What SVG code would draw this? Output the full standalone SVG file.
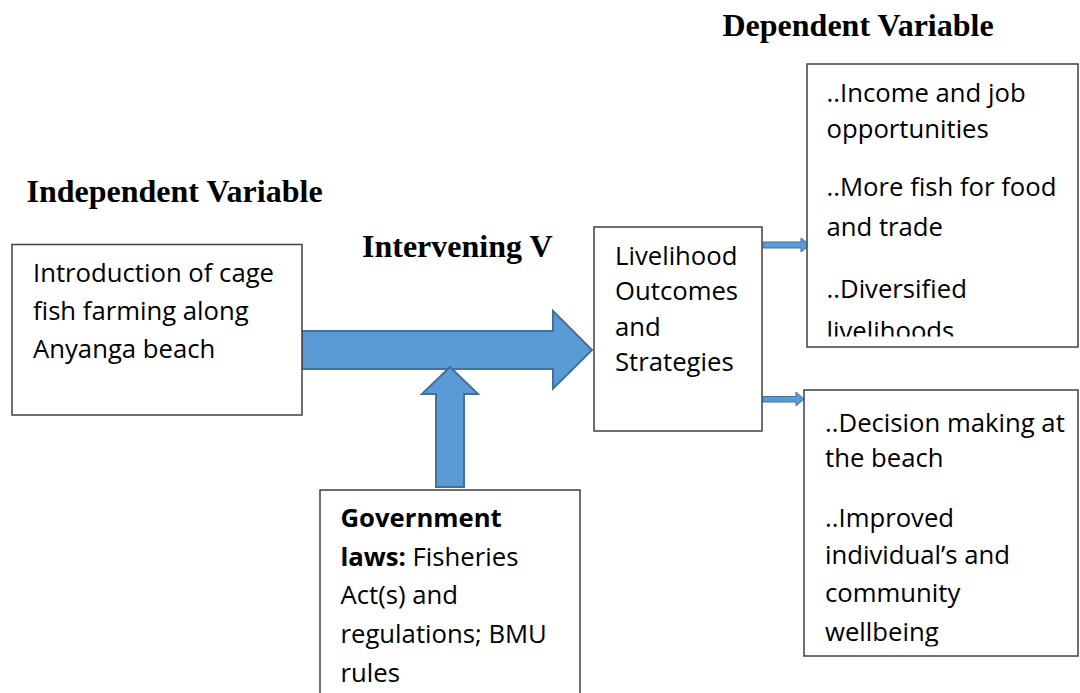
<svg xmlns="http://www.w3.org/2000/svg" width="1080" height="693" viewBox="0 0 1080 693">
<style>
.box{fill:#fff;stroke:#404040;stroke-width:1.5}
.t{font-family:"Open Sans","Noto Sans","Liberation Sans",sans-serif;font-size:25.7px;fill:#000}
.b{font-weight:bold}
.h{font-family:"Liberation Serif","Times New Roman",serif;font-weight:bold;font-size:32px;fill:#000}
.arr{fill:#5B9BD5;stroke:#41719C;stroke-width:2;stroke-linejoin:miter}
.sarr{fill:#5B9BD5;stroke:#41719C;stroke-width:1}
</style>
<defs>
<clipPath id="clipUp"><rect x="807" y="64" width="272" height="272.5"/></clipPath>
<clipPath id="clipLow"><rect x="804" y="390" width="275" height="256.5"/></clipPath>
</defs>
<rect width="1080" height="693" fill="#fff"/>
<g id="titles">
<text class="h" x="26.5" y="202">Independent Variable</text>
<text class="h" x="362" y="257">Intervening V</text>
<text class="h" x="722.5" y="36">Dependent Variable</text>
</g>
<g id="connectors">
<polygon class="arr" points="302,331 553,331 553,311 592,350 553,388.5 553,369 302,369"/>
<polygon class="arr" points="450,367 478,394 464,394 464,487 436,487 436,394 422,394"/>
<polygon class="sarr" points="763,242 801,242 801,238 810,245 801,252 801,248 763,248"/>
<polygon class="sarr" points="763,396.5 796,396.5 796,392 804,399 796,406 796,402 763,402"/>
</g>
<g id="node-independent">
<rect class="box" x="12" y="244.5" width="290" height="170.5"/>
<text class="t" x="33" y="282">Introduction of cage</text>
<text class="t" x="33" y="320">fish farming along</text>
<text class="t" x="33" y="358">Anyanga beach</text>
</g>
<g id="node-livelihood">
<rect class="box" x="594" y="227" width="168" height="204"/>
<text class="t" x="615" y="265">Livelihood</text>
<text class="t" x="615" y="300">Outcomes</text>
<text class="t" x="615" y="335.5">and</text>
<text class="t" x="615" y="371">Strategies</text>
</g>
<g id="node-government">
<rect class="box" x="320" y="490" width="260" height="215"/>
<text class="t" x="340.5" y="527"><tspan class="b">Government</tspan></text>
<text class="t" x="340.5" y="565.5"><tspan class="b">laws:</tspan> Fisheries</text>
<text class="t" x="340.5" y="604">Act(s) and</text>
<text class="t" x="340.5" y="643">regulations; BMU</text>
<text class="t" x="340.5" y="682">rules</text>
</g>
<g id="node-dependent-upper">
<rect class="box" x="807" y="64" width="271" height="283"/>
<g clip-path="url(#clipUp)">
<text class="t" x="826.5" y="102">..Income and job</text>
<text class="t" x="826.5" y="138">opportunities</text>
<text class="t" x="826.5" y="195.5">..More fish for food</text>
<text class="t" x="826.5" y="235.5">and trade</text>
<text class="t" x="826.5" y="297.5">..Diversified</text>
<text class="t" x="826.5" y="339.5">livelihoods</text>
</g>
</g>
<g id="node-dependent-lower">
<rect class="box" x="804" y="390" width="274" height="266"/>
<g clip-path="url(#clipLow)">
<text class="t" x="825" y="432">..Decision making at</text>
<text class="t" x="825" y="466.5">the beach</text>
<text class="t" x="825" y="527">..Improved</text>
<text class="t" x="825" y="564">individual’s and</text>
<text class="t" x="825" y="601.5">community</text>
<text class="t" x="825" y="640.5">wellbeing</text>
</g>
</g>
</svg>
